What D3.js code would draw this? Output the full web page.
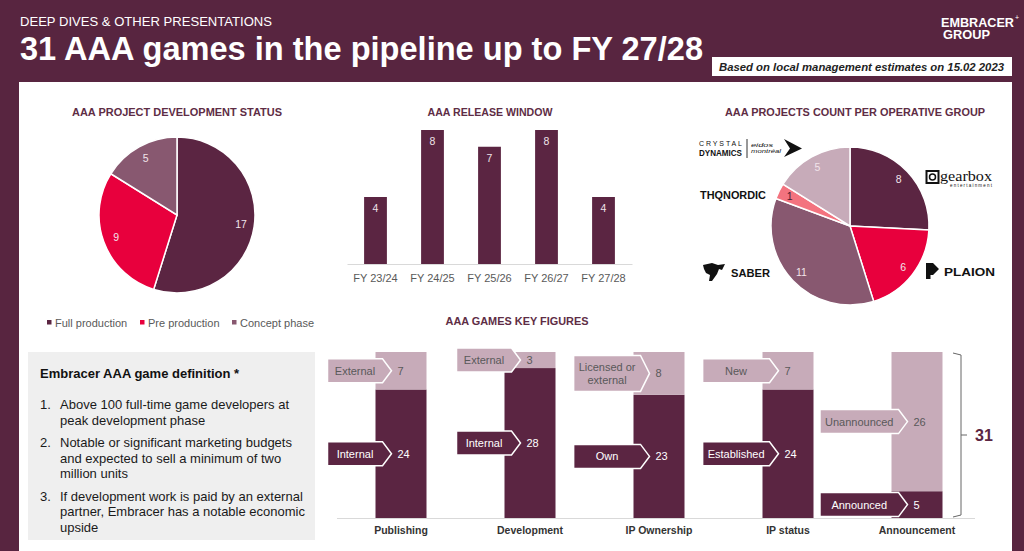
<!DOCTYPE html>
<html><head><meta charset="utf-8">
<script src="https://cdn.jsdelivr.net/npm/d3@7"></script>
<style>
html,body{margin:0;padding:0;background:#582540;}
svg{display:block;font-family:"Liberation Sans",Arial,sans-serif;}
</style>
</head><body>
<svg id="c" width="1024" height="551"></svg>
<script>
// ---------- DATA ----------
const statusLabels = ["Full production", "Pre production", "Concept phase"];
const statusValues = [17, 9, 5];

const releaseWindows = ["FY 23/24", "FY 24/25", "FY 25/26", "FY 26/27", "FY 27/28"];
const releaseCounts = [4, 8, 7, 8, 4];

const operativeGroups = ["Gearbox", "Plaion", "Saber", "THQ Nordic", "Crystal Dynamics - Eidos Montréal"];
const operativeCounts = [8, 6, 11, 1, 5];

const keyCategories = ["Publishing", "Development", "IP Ownership", "IP status", "Announcement"];
const keyBottomLabels = ["Internal", "Internal", "Own", "Established", "Announced"];
const keyBottomValues = [24, 28, 23, 24, 5];
const keyTopLabels = ["External", "External", "Licensed or\nexternal", "New", "Unannounced"];
const keyTopValues = [7, 3, 8, 7, 26];

const definitionItems = [
  ["Above 100 full-time game developers at", "peak development phase"],
  ["Notable or significant marketing budgets", "and expected to sell a minimum of two", "million units"],
  ["If development work is paid by an external", "partner, Embracer has a notable economic", "upside"]
];

// ---------- STYLE ----------
const BG = "#582540", DARK = "#5b2542", RED = "#e8003d", MAUVE = "#885870",
      LIGHT = "#c7abb9", SALMON = "#f3737f", GRAY = "#595959", TITLE = "#5e2d45";

const svg = d3.select("#c");
svg.append("rect").attr("width", 1024).attr("height", 551).attr("fill", BG);
svg.append("rect").attr("x", 19).attr("y", 82).attr("width", 993).attr("height", 469).attr("fill", "#ffffff");

// ---------- HEADER ----------
svg.append("text").attr("x", 20).attr("y", 26).attr("fill", "#fff")
  .style("font-size", "13px").attr("textLength", 252).attr("lengthAdjust", "spacingAndGlyphs")
  .text("DEEP DIVES & OTHER PRESENTATIONS");
svg.append("text").attr("x", 20).attr("y", 60).attr("fill", "#fff")
  .style("font-family", '"Liberation Sans Narrow","Arial Narrow","Liberation Sans",sans-serif')
  .style("font-size", "33px").style("font-weight", "bold")
  .attr("textLength", 683).attr("lengthAdjust", "spacingAndGlyphs")
  .text("31 AAA games in the pipeline up to FY 27/28");
svg.append("rect").attr("x", 712).attr("y", 57).attr("width", 300).attr("height", 19).attr("fill", "#fff");
svg.append("text").attr("x", 719).attr("y", 71).attr("fill", "#222")
  .style("font-family", '"Liberation Sans Narrow","Arial Narrow","Liberation Sans",sans-serif')
  .style("font-size", "11px").style("font-weight", "bold").style("font-style", "italic")
  .attr("textLength", 285).attr("lengthAdjust", "spacingAndGlyphs")
  .text("Based on local management estimates on 15.02 2023");
svg.append("text").attr("x", 941).attr("y", 27).attr("fill", "#fff")
  .style("font-size", "12.5px").style("font-weight", "bold")
  .attr("textLength", 73).attr("lengthAdjust", "spacingAndGlyphs").text("EMBRACER");
svg.append("text").attr("x", 1015).attr("y", 20).attr("fill", "#fff").style("font-size", "7px").text("+");
svg.append("text").attr("x", 943).attr("y", 39).attr("fill", "#fff")
  .style("font-size", "12.5px").style("font-weight", "bold")
  .attr("textLength", 47).attr("lengthAdjust", "spacingAndGlyphs").text("GROUP");

function sectionTitle(x, y, t, w) {
  svg.append("text").attr("x", x).attr("y", y).attr("text-anchor", "middle")
    .attr("fill", TITLE).style("font-size", "11px").style("font-weight", "bold")
    .attr("textLength", w).attr("lengthAdjust", "spacingAndGlyphs").text(t);
}

// ---------- PIE 1 ----------
sectionTitle(177, 116, "AAA PROJECT DEVELOPMENT STATUS", 210);
{
  const r = 78, cx = 177, cy = 215;
  const col = d3.scaleOrdinal().domain(statusLabels).range([DARK, RED, MAUVE]);
  const pie = d3.pie().sort(null).value(d => d.v);
  const data = pie(statusLabels.map((l, i) => ({ l, v: statusValues[i] })));
  const arc = d3.arc().innerRadius(0).outerRadius(r);
  const lab = d3.arc().innerRadius(r * 0.68).outerRadius(r * 0.98);
  const g = svg.append("g").attr("transform", `translate(${cx},${cy})`);
  g.selectAll("path").data(data).join("path").attr("d", arc)
    .attr("fill", d => col(d.data.l)).attr("stroke", "#fff").attr("stroke-width", 1.5);
  g.selectAll("text").data(data).join("text")
    .attr("transform", d => `translate(${lab.centroid(d)})`).attr("dy", "0.35em")
    .attr("text-anchor", "middle").attr("fill", "#f1e4ea").style("font-size", "10.5px")
    .text(d => d.data.v);
  // legend
  const lx = [47, 140, 232];
  statusLabels.forEach((l, i) => {
    svg.append("rect").attr("x", lx[i]).attr("y", 320).attr("width", 4.5).attr("height", 4.5).attr("fill", col(l));
    svg.append("text").attr("x", lx[i] + 8).attr("y", 327).attr("fill", GRAY).style("font-size", "11px").text(l);
  });
}

// ---------- RELEASE BARS ----------
sectionTitle(490, 116, "AAA RELEASE WINDOW", 125);
{
  const x = d3.scaleBand().domain(releaseWindows).range([347, 632]).paddingInner(0.6).paddingOuter(0.3);
  const y = d3.scaleLinear().domain([0, 8]).range([264, 130]);
  const g = svg.append("g");
  g.selectAll("rect").data(releaseWindows).join("rect")
    .attr("x", d => x(d)).attr("y", (d, i) => y(releaseCounts[i]))
    .attr("width", x.bandwidth()).attr("height", (d, i) => y(0) - y(releaseCounts[i]))
    .attr("fill", DARK);
  g.selectAll("text.v").data(releaseWindows).join("text").attr("class", "v")
    .attr("x", d => x(d) + x.bandwidth() / 2).attr("y", (d, i) => y(releaseCounts[i]) + 15)
    .attr("text-anchor", "middle").attr("fill", "#efe3e8").style("font-size", "10.5px")
    .text((d, i) => releaseCounts[i]);
  const ax = svg.append("g").attr("transform", `translate(0,${y(0)})`)
    .call(d3.axisBottom(x).tickSize(0).tickPadding(10));
  ax.select(".domain").attr("stroke", "#d9d9d9");
  ax.selectAll("text").attr("fill", GRAY).style("font-size", "11px")
    .style("font-family", '"Liberation Sans",Arial,sans-serif');
}

// ---------- PIE 2 ----------
sectionTitle(855, 116, "AAA PROJECTS COUNT PER OPERATIVE GROUP", 260);
{
  const r = 79, cx = 850, cy = 226;
  const col = d3.scaleOrdinal().domain(operativeGroups).range([DARK, RED, MAUVE, SALMON, LIGHT]);
  const pie = d3.pie().sort(null).value(d => d.v);
  const data = pie(operativeGroups.map((l, i) => ({ l, v: operativeCounts[i] })));
  const arc = d3.arc().innerRadius(0).outerRadius(r);
  const lab = d3.arc().innerRadius(r * 0.72).outerRadius(r * 0.98);
  const g = svg.append("g").attr("transform", `translate(${cx},${cy})`);
  g.selectAll("path").data(data).join("path").attr("d", arc)
    .attr("fill", d => col(d.data.l)).attr("stroke", "#fff").attr("stroke-width", 1.5);
  g.selectAll("text").data(data).join("text")
    .attr("transform", d => `translate(${lab.centroid(d)})`).attr("dy", "0.35em")
    .attr("text-anchor", "middle")
    .attr("fill", d => d.data.l === "THQ Nordic" ? "#4a1a30" : "#f1e4ea")
    .style("font-size", "10.5px").text(d => d.data.v);

  // logos (text approximations)
  const L = svg.append("g").attr("fill", "#111");
  L.append("text").attr("x", 699).attr("y", 146).style("font-size", "7px")
    .attr("textLength", 43).attr("lengthAdjust", "spacing").text("CRYSTAL");
  L.append("text").attr("x", 699).attr("y", 156).style("font-size", "8.5px").style("font-weight", "bold")
    .attr("textLength", 43).attr("lengthAdjust", "spacingAndGlyphs").text("DYNAMICS");
  L.append("line").attr("x1", 747).attr("x2", 747).attr("y1", 139).attr("y2", 158).attr("stroke", "#333");
  L.append("text").attr("x", 751).attr("y", 147).style("font-size", "6px").style("font-style", "italic")
    .attr("textLength", 22).attr("lengthAdjust", "spacingAndGlyphs").text("eidos");
  L.append("text").attr("x", 751).attr("y", 153).style("font-size", "6px").style("font-style", "italic")
    .attr("textLength", 30).attr("lengthAdjust", "spacingAndGlyphs").text("montréal");
  L.append("path").attr("d", "M784,139 L802,148.5 L784,157 L790,148.5 Z");
  L.append("text").attr("x", 700).attr("y", 199).style("font-size", "11.5px").style("font-weight", "bold")
    .attr("textLength", 66).attr("lengthAdjust", "spacingAndGlyphs").text("THQNORDIC");
  L.append("path").attr("d", "M703,265 L712,263 L718,265 L725,264 L722,270 L719,269 L717,274 L712,281 L709,281 L710,275 L706,273 L704,269 Z");
  L.append("text").attr("x", 731).attr("y", 277).style("font-size", "10px").style("font-weight", "bold")
    .attr("textLength", 39).attr("lengthAdjust", "spacingAndGlyphs").text("SABER");
  L.append("rect").attr("x", 926.5).attr("y", 171).attr("width", 12).attr("height", 12)
    .attr("fill", "none").attr("stroke", "#111").attr("stroke-width", 2);
  L.append("circle").attr("cx", 932.5).attr("cy", 177).attr("r", 3).attr("fill", "none").attr("stroke", "#111").attr("stroke-width", 1.5);
  L.append("text").attr("x", 940).attr("y", 181).style("font-family", '"Liberation Serif","DejaVu Serif",serif')
    .style("font-size", "14px").attr("textLength", 52).attr("lengthAdjust", "spacingAndGlyphs").text("gearbox");
  L.append("text").attr("x", 950).attr("y", 186.5).style("font-size", "4.5px")
    .attr("textLength", 42).attr("lengthAdjust", "spacing").text("entertainment");
  L.append("path").attr("d", "M926,263 L933,263 L939,269 L933,275 L930.5,275 L930.5,279 L926,279 Z");
  L.append("text").attr("x", 944).attr("y", 275.5).style("font-size", "11px").style("font-weight", "bold")
    .attr("textLength", 51).attr("lengthAdjust", "spacingAndGlyphs").text("PLAION");
}

// ---------- KEY FIGURES ----------
sectionTitle(517, 325, "AAA GAMES KEY FIGURES", 143);
{
  const total = keyBottomValues[0] + keyTopValues[0];
  const kx = d3.scalePoint().domain(keyCategories).range([401, 917]);
  const ky = d3.scaleLinear().domain([0, total]).range([518, 352]);
  const barW = 51;
  const g = svg.append("g");
  g.append("line").attr("x1", 337).attr("x2", 975).attr("y1", ky(0) + 0.5).attr("y2", ky(0) + 0.5)
    .attr("stroke", "#d9d9d9");

  keyCategories.forEach((cat, i) => {
    const x0 = kx(cat) - barW / 2;
    const b = keyBottomValues[i], t = keyTopValues[i];
    g.append("rect").attr("x", x0).attr("y", ky(b)).attr("width", barW).attr("height", ky(0) - ky(b)).attr("fill", DARK);
    g.append("rect").attr("x", x0).attr("y", ky(b + t)).attr("width", barW).attr("height", ky(b) - ky(b + t)).attr("fill", LIGHT);

    g.append("text").attr("x", kx(cat)).attr("y", 534).attr("text-anchor", "middle")
      .attr("fill", "#333").style("font-size", "10.5px").style("font-weight", "bold").text(cat);

    const segs = [
      { label: keyBottomLabels[i], v: b, lo: 0, hi: b, fill: DARK, txt: "#ffffff" },
      { label: keyTopLabels[i], v: t, lo: b, hi: b + t, fill: LIGHT, txt: GRAY }
    ];
    let maxW = 0;
    segs.forEach(s => {
      s.lines = s.label.split("\n");
      s.lines.forEach(line => {
        const tmp = svg.append("text").style("font-size", "11px").text(line);
        maxW = Math.max(maxW, tmp.node().getComputedTextLength());
        tmp.remove();
      });
    });
    const tip = x0 + 16, tipW = 9;
    const rw = Math.max(maxW + 10, 55);
    const left = tip - tipW - rw;
    segs.forEach(s => {
      const cy = (ky(s.lo) + ky(s.hi)) / 2;
      const h = 12 + 12 * s.lines.length;
      const top = cy - h / 2, bot = cy + h / 2;
      g.append("path")
        .attr("d", `M${left},${top} L${tip - tipW},${top} L${tip},${cy} L${tip - tipW},${bot} L${left},${bot} Z`)
        .attr("fill", s.fill).attr("stroke", "#fff").attr("stroke-width", 1.5).attr("stroke-linejoin", "miter");
      const tx = left + rw / 2;
      s.lines.forEach((line, j) => {
        g.append("text").attr("x", tx).attr("y", cy + 4 + (j - (s.lines.length - 1) / 2) * 13)
          .attr("text-anchor", "middle").attr("fill", s.txt).style("font-size", "11px").text(line);
      });
      g.append("text").attr("x", tip + 6).attr("y", cy + 4).attr("fill", s.txt)
        .style("font-size", "11px").text(s.v);
    });
  });

  const yt = ky(total), yb = ky(0), ym = (yt + yb) / 2;
  g.append("path").attr("d", `M953,${yt + 1} L961,${yt + 3} L961,${yb - 3} L953,${yb - 1} M961,${ym} L967,${ym}`)
    .attr("fill", "none").attr("stroke", "#666").attr("stroke-width", 1);
  g.append("text").attr("x", 975).attr("y", ym + 6).attr("fill", DARK)
    .style("font-size", "16px").style("font-weight", "bold").text(total);
}

// ---------- DEFINITION BOX ----------
{
  const g = svg.append("g");
  g.append("rect").attr("x", 28).attr("y", 352).attr("width", 287).attr("height", 188).attr("fill", "#efefef");
  g.append("text").attr("x", 40).attr("y", 378).attr("fill", "#111")
    .style("font-size", "13px").style("font-weight", "bold").text("Embracer AAA game definition *");
  let y = 409;
  definitionItems.forEach((lines, i) => {
    g.append("text").attr("x", 40).attr("y", y).attr("fill", "#1a1a1a").style("font-size", "13px").text((i + 1) + ".");
    lines.forEach((line) => {
      g.append("text").attr("x", 60).attr("y", y).attr("fill", "#1a1a1a").style("font-size", "13px").text(line);
      y += 15.5;
    });
    y += 7;
  });
}
</script>
</body></html>
